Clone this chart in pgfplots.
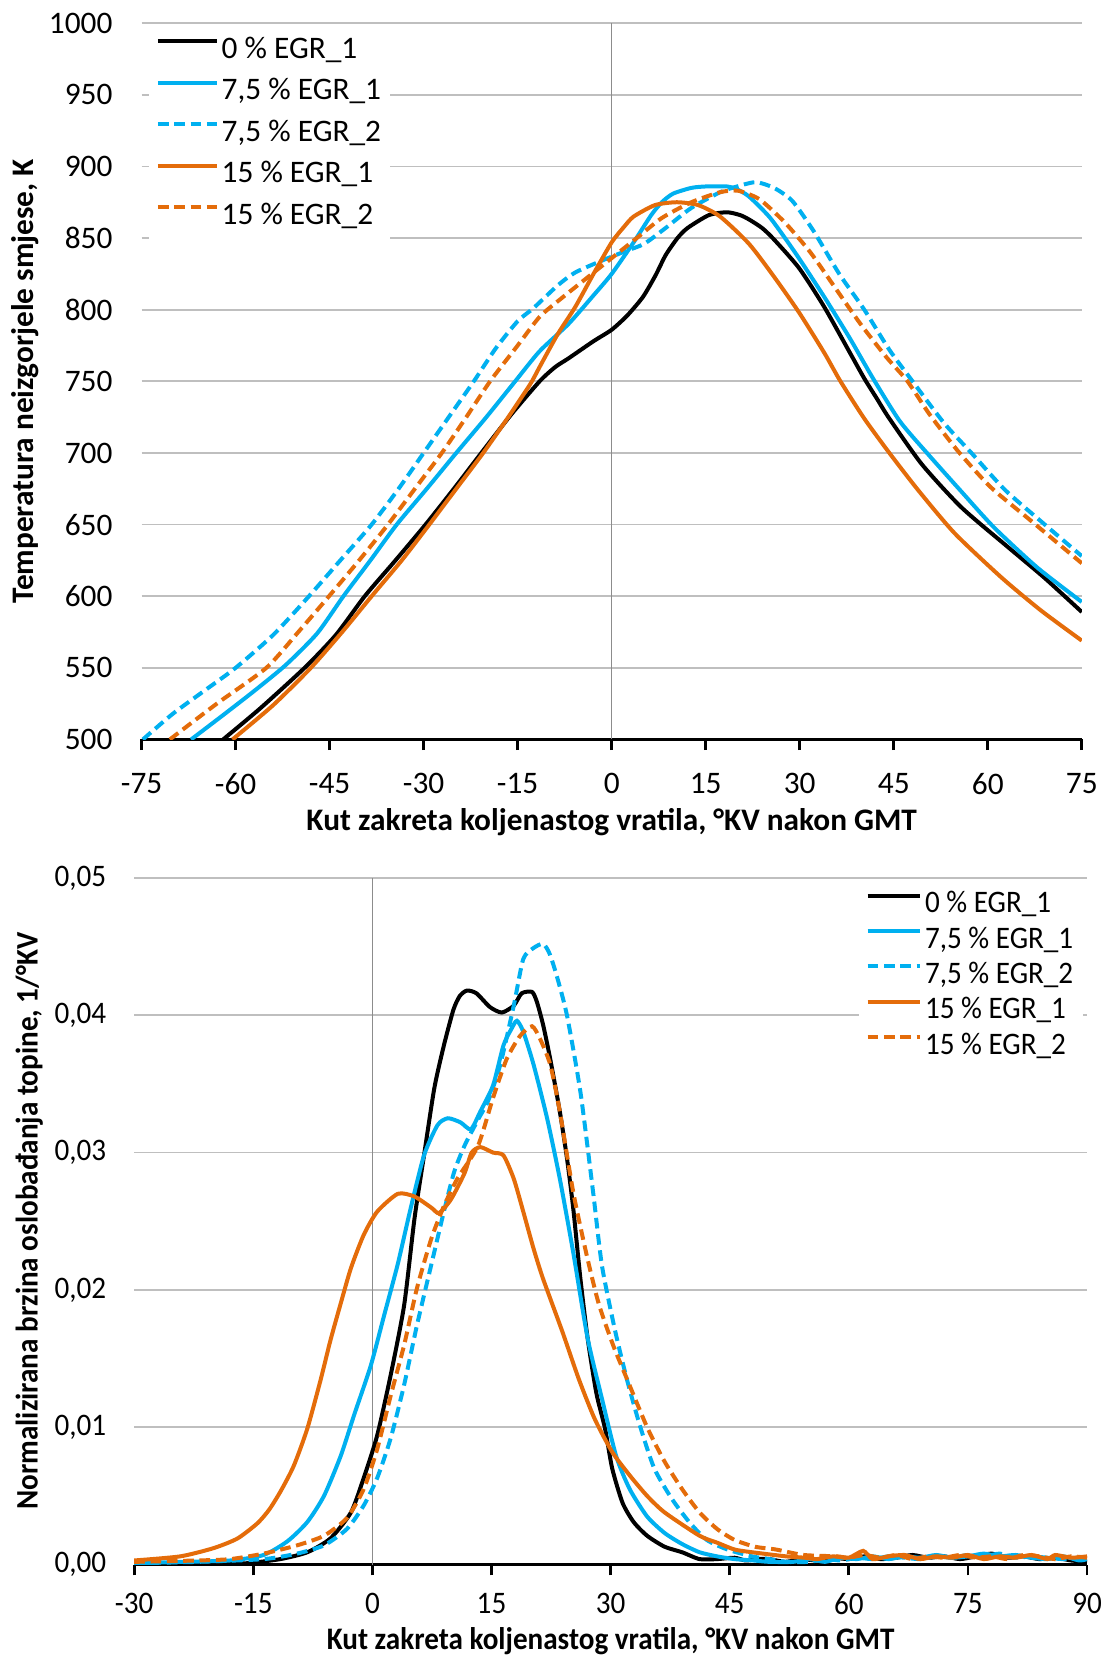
\documentclass[border=0pt]{standalone}
\usepackage{fontspec}
\setmainfont{Carlito}
\newfontfamily\cond{Carlito}[FakeStretch=0.93]
\usepackage{pgfplots}
\pgfplotsset{compat=1.18}
\definecolor{cy}{HTML}{00B0F0}
\definecolor{or}{HTML}{E46C0A}
\definecolor{gridc}{HTML}{BFBFBF}
\definecolor{zeroc}{HTML}{8C8C8C}
\pgfplotsset{
 base/.style={
  scale only axis,
  anchor=south west,
  /pgf/number format/assume math mode=true,
  /pgf/number format/1000 sep={},
  axis x line*=bottom,
  axis y line*=left,
  y axis line style={draw=none},
  x axis line style={line width=0.8pt, black},
  xtick style={line width=0.8pt, black},
  ytick style={draw=none},
  tick align=outside,
  major tick length=3.2pt,
  ymajorgrids,
  grid style={gridc, line width=0.5pt},
  extra x ticks={0},
  extra x tick labels={},
  extra x tick style={xmajorgrids=true, major grid style={zeroc, line width=0.4pt}, major tick length=0pt},
  legend cell align=left,
  legend style={draw=none, fill=white, inner xsep=2pt, inner ysep=1pt,
    nodes={inner sep=0.8pt, text height=7pt, text depth=2.5pt}},
  every axis plot/.append style={line width=1.2pt, smooth, tension=0.4},
  ylabel style={anchor=center},
  xlabel style={anchor=center},
 },
 dsh/.style={dash pattern=on 3.2pt off 1.7pt},
}
\begin{document}
\begin{tikzpicture}[x=1pt,y=1pt]
\useasboundingbox (0,0) rectangle (331.8,497.1);
\begin{axis}[base, at={(42.48pt,275.25pt)}, width=282.06pt, height=214.9pt,
  font=\fontsize{9.4}{11}\selectfont,
  xmin=-75, xmax=75, ymin=500, ymax=1000,
  xtick={-75,-60,...,75}, ytick={500,550,...,1000},
  xlabel={Kut zakreta koljenastog vratila, °KV nakon GMT},
  ylabel={Temperatura neizgorjele smjese, K},
  xlabel style={font=\bfseries\fontsize{9.4}{11}\selectfont, at={(axis description cs:0.5,0)}, yshift=-24.8pt},
  ylabel style={font=\bfseries\fontsize{9.4}{11}\selectfont, at={(axis description cs:-0.124,0.5)}},
  yticklabel style={xshift=-2pt},
  xticklabel style={yshift=-3.3pt},
  legend image code/.code={\draw[#1] (0pt,2.9pt) -- (17.7pt,2.9pt);},
  legend style={at={(axis description cs:0.0075,0.993)}, anchor=north west, font=\fontsize{9.4}{11}\selectfont, row sep=1.35pt},
]
\addplot[black] coordinates {(-62,500) (-56,522) (-49,550) (-44,573) (-39.4,600) (-34.5,625) (-29.7,650) (-25,676) (-20.8,700) (-16,727) (-11.5,750) (-9,760) (-6.9,766) (-2.9,778) (0,786) (2.5,796) (5,809) (7,824) (8.6,838) (10.5,850) (12.1,857) (15.5,866) (18.4,868) (20.5,866) (21.9,863) (24,857) (25.9,849) (29.9,829) (33.9,802) (38,770) (40.3,752) (42.3,738) (44.3,724) (49.5,692) (55.8,662) (63.3,634) (69,613) (75,589)};
\addlegendentry{0 \% EGR\_1}
\addplot[cy] coordinates {(-67.1,500) (-62,517) (-57,534) (-52,552) (-47,574) (-42.8,600) (-38.5,625) (-34.3,650) (-29.5,675) (-24.8,700) (-20,725) (-15.4,750) (-11.5,771) (-6.9,790) (-2.9,810) (0,825) (3.5,847) (6.3,866) (8,875) (9.8,881) (12.7,885) (15,886) (18.4,886) (20,884) (21.9,879) (25.3,864) (29.4,839) (33.9,809) (38,780) (41.7,752) (46,722) (50.7,698) (55.8,673) (61,648) (67.9,620) (75,596)};
\addlegendentry{7,5 \% EGR\_1}
\addplot[cy,dsh] coordinates {(-74.8,500) (-70,518) (-65,534) (-60,550) (-54,573) (-48.5,599) (-43.3,625) (-38.3,650) (-34,675) (-30,700) (-26,725) (-22,750) (-18.5,773) (-15,792) (-12.5,801) (-8.6,817) (-5.8,826) (-1.7,834) (2.3,841) (5.2,846) (8.6,857) (12.7,871) (17.3,882) (20,886) (23,889) (25.9,885) (28.8,876) (32.2,855) (36.3,825) (40.3,800) (44.3,772) (48,750) (53,721) (57.6,699) (62.8,674) (69.1,650) (75,628)};
\addlegendentry{7,5 \% EGR\_2}
\addplot[or] coordinates {(-60.5,500) (-54,524) (-48,550) (-43,575) (-38.3,600) (-33.5,625) (-29.1,650) (-24.8,675) (-20.5,700) (-16.5,725) (-13,748) (-11.5,760) (-8.6,783) (-5.8,802) (-2.9,825) (0,847) (2,858) (3.5,865) (6.9,873) (10.4,875) (13.8,873) (17.3,865) (21.9,846) (25.9,823) (29.9,798) (33.9,770) (36.5,750) (40.3,724) (44.3,700) (48.9,674) (54.7,644) (62.2,613) (68.5,590) (75,569)};
\addlegendentry{15 \% EGR\_1}
\addplot[or,dsh] coordinates {(-70.5,500) (-63,525) (-55.1,550) (-50,575) (-45.1,600) (-40.3,625) (-35.7,650) (-31.4,675) (-27.1,700) (-23.2,725) (-19.4,750) (-15,775) (-11.5,795) (-8,808) (-4,822) (0,836) (4,850) (8,864) (12.7,875) (17.3,882) (20.2,883) (23.6,877) (27.6,861) (31.7,840) (35.7,815) (39.7,790) (43.8,767) (47.2,750) (50.7,727) (55.3,701) (60.5,676) (66.8,653) (75,623)};
\addlegendentry{15 \% EGR\_2}
\end{axis}

\begin{axis}[base, at={(40.26pt,27.72pt)}, width=285.84pt, height=206.0pt,
  font=\cond\fontsize{9.4}{11}\selectfont,
  xmin=-30, xmax=90, ymin=0, ymax=0.05,
  xtick={-30,-15,...,90}, ytick={0,0.01,0.02,0.03,0.04,0.05},
  scaled y ticks=false,
  yticklabel style={xshift=-1.7pt, /pgf/number format/.cd, fixed, fixed zerofill, precision=2, use comma},
  xticklabel style={yshift=-1.8pt},
  xlabel={Kut zakreta koljenastog vratila, °KV nakon GMT},
  ylabel={Normalizirana brzina oslobađanja topine, 1/°KV},
  xlabel style={font=\cond\bfseries\fontsize{9.4}{11}\selectfont, at={(axis description cs:0.5,0)}, yshift=-23pt},
  ylabel style={font=\cond\bfseries\fontsize{9.4}{11}\selectfont, at={(axis description cs:-0.110,0.5)}},
  legend image code/.code={\draw[#1] (0pt,2.9pt) -- (15.8pt,2.9pt);},
  legend style={at={(axis description cs:0.760,0.993)}, anchor=north west, font=\cond\fontsize{9.4}{11}\selectfont, row sep=-0.5pt},
]
\addplot[black] coordinates {(-30,0.0001) (-24,0.0001) (-19,0.0001) (-15.8,0.0001) (-11.6,0.0004) (-8.2,0.0009) (-5.3,0.0019) (-2.7,0.0038) (-1.1,0.0063) (0.6,0.0094) (2.3,0.0138) (4.0,0.0189) (5.3,0.0252) (6.5,0.0298) (7.8,0.0347) (9.0,0.0378) (10.2,0.0404) (11.0,0.0414) (11.9,0.0418) (13.1,0.0416) (14.8,0.0406) (16.3,0.0402) (17.8,0.0407) (18.8,0.0416) (20.1,0.0417) (20.7,0.0410) (21.5,0.0393) (22.4,0.0368) (23.6,0.0330) (24.5,0.0296) (25.3,0.0259) (26.2,0.0208) (27.1,0.0165) (28.2,0.0125) (29.3,0.0099) (30.2,0.0070) (31.5,0.0045) (32.9,0.0031) (34.6,0.0021) (36.8,0.0013) (39,0.0009) (41.2,0.0004) (43.4,0.0004) (45.6,0.0005) (47,0.0003) (48.5,0.0004) (50,0.0004) (52,0.0002) (54,0.0004) (56,0.0003) (58,0.0005) (60,0.0004) (62,0.0006) (64,0.0004) (66,0.0005) (68,0.0007) (70,0.0005) (72,0.0006) (74,0.0004) (76,0.0006) (78,0.0008) (80,0.0005) (82,0.0006) (84,0.0004) (86,0.0005) (88,0.0003) (90,0.0002)};
\addlegendentry{0 \% EGR\_1}
\addplot[cy] coordinates {(-30,0.0001) (-24,0.0002) (-17.9,0.0003) (-13.7,0.0007) (-10.7,0.0017) (-8.2,0.0031) (-6.1,0.0050) (-4.0,0.0079) (-2.3,0.0109) (-0.2,0.0145) (1.5,0.0182) (3.2,0.0219) (4.8,0.0259) (6.5,0.0298) (8.2,0.0320) (9.5,0.0325) (11.1,0.0322) (12.4,0.0317) (13.6,0.0330) (15.2,0.0349) (16.5,0.0378) (17.5,0.0390) (18.2,0.0396) (19.0,0.0388) (20.3,0.0364) (22.0,0.0325) (23.6,0.0281) (25.3,0.0227) (27.1,0.0165) (28.9,0.0121) (30.7,0.0079) (32.4,0.0055) (34.6,0.0035) (36.8,0.0023) (39,0.0015) (41.2,0.0009) (43.4,0.0006) (45.6,0.0004) (48,0.0003) (50,0.0002) (53,0.0002) (55,0.0004) (57,0.0002) (59,0.0005) (61,0.0004) (63,0.0006) (65,0.0004) (67,0.0006) (69,0.0005) (71,0.0007) (73,0.0005) (75,0.0006) (77,0.0008) (79,0.0006) (81,0.0007) (83,0.0005) (85,0.0004) (87,0.0006) (89,0.0003) (90,0.0004)};
\addlegendentry{7,5 \% EGR\_1}
\addplot[cy,dsh] coordinates {(-30,0.0001) (-22,0.0002) (-13.7,0.0004) (-9.5,0.0008) (-6.1,0.0014) (-3.2,0.0026) (-1.1,0.0043) (0.6,0.0063) (2.3,0.0092) (4.0,0.0131) (5.6,0.0174) (7.4,0.0218) (9.0,0.0257) (10.3,0.0286) (11.6,0.0305) (13.3,0.0324) (14.6,0.0338) (16.1,0.0364) (17.8,0.0407) (19.0,0.0441) (20.3,0.0449) (21.5,0.0452) (22.3,0.0445) (23.2,0.0429) (24.5,0.0400) (26.2,0.0344) (27.8,0.0271) (28.9,0.0218) (30.5,0.0172) (32,0.0136) (33.7,0.0101) (35.5,0.007) (37.7,0.0048) (39.9,0.0031) (42.1,0.0018) (44.7,0.0011) (47.8,0.0006) (50,0.0004) (52.1,0.0002) (55,0.0002) (57,0.0004) (59,0.0003) (61,0.0005) (63,0.0004) (65,0.0006) (67,0.0005) (69,0.0004) (71,0.0006) (73,0.0005) (75,0.0007) (77,0.0006) (79,0.0008) (81,0.0005) (83,0.0006) (85,0.0005) (87,0.0004) (89,0.0005) (90,0.0003)};
\addlegendentry{7,5 \% EGR\_2}
\addplot[or] coordinates {(-30,0.0003) (-24.2,0.0006) (-20,0.0012) (-17,0.0019) (-14.5,0.0030) (-13,0.0040) (-11.5,0.0054) (-9.9,0.0072) (-8.2,0.0099) (-6.5,0.0135) (-5.3,0.0163) (-4.0,0.0190) (-2.7,0.0216) (-1.1,0.0240) (0.6,0.0257) (3.2,0.0270) (5.3,0.0268) (7.4,0.0260) (8.4,0.0256) (9.9,0.0266) (11.6,0.0285) (12.5,0.0300) (13.6,0.0304) (15.2,0.0300) (16.5,0.0298) (17.8,0.0281) (19.0,0.0257) (20.3,0.0230) (21.5,0.0208) (23.9,0.0170) (26,0.0135) (28,0.0106) (30.2,0.0082) (32.4,0.0065) (34.6,0.005) (36.8,0.0038) (41.2,0.0021) (43.4,0.0016) (45.6,0.0011) (47.8,0.0009) (52.1,0.0006) (54.5,0.0005) (56,0.0004) (58,0.0006) (60,0.0005) (61.8,0.001) (63,0.0004) (65,0.0006) (67,0.0007) (69,0.0004) (71,0.0006) (73,0.0005) (75,0.0007) (77,0.0004) (79,0.0006) (81,0.0005) (83,0.0007) (85,0.0004) (86,0.0007) (88,0.0005) (90,0.0006)};
\addlegendentry{15 \% EGR\_1}
\addplot[or,dsh] coordinates {(-30,0.0002) (-22,0.0003) (-17.9,0.0004) (-13.7,0.0008) (-9.5,0.0014) (-6.1,0.0021) (-3.2,0.0034) (-1.1,0.0055) (0.6,0.0084) (2.3,0.0123) (4.0,0.016) (5.6,0.0201) (7.4,0.0237) (9.0,0.0261) (10.7,0.0281) (13.3,0.0305) (15.2,0.0340) (16.9,0.0368) (18.6,0.0385) (20.1,0.0392) (21.1,0.0383) (22.4,0.0364) (23.6,0.0330) (25.3,0.0271) (27.0,0.0225) (28.5,0.019) (30.3,0.0160) (32,0.0136) (34.6,0.010) (36.8,0.0075) (39,0.0055) (41.2,0.0038) (43.4,0.0026) (45.6,0.0018) (48.2,0.0013) (50.8,0.0011) (54.3,0.0007) (58.5,0.0006) (60,0.0005) (62,0.0007) (64,0.0005) (66,0.0007) (68,0.0004) (70,0.0006) (72,0.0005) (74,0.0007) (76,0.0005) (78,0.0006) (80,0.0004) (82,0.0007) (84,0.0006) (86,0.0004) (88,0.0006) (90,0.0005)};
\addlegendentry{15 \% EGR\_2}
\end{axis}
\end{tikzpicture}
\end{document}
